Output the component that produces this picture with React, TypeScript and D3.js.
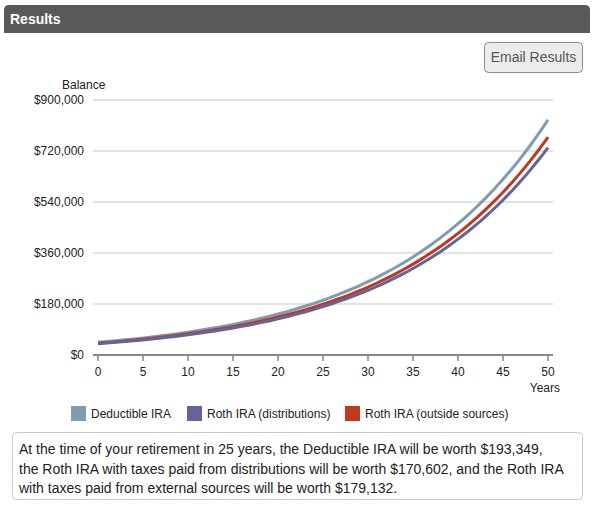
import * as d3 from "d3";
import { useEffect, useRef } from "react";

const YEARS = d3.range(0, 51);

// balances, one value per year (0..50)
const DEDUCTIBLE = [
  45050, 47750, 50620, 53650, 56880, 60290, 63900, 67740, 71800, 76110,
  80680, 85520, 90650, 96090, 101850, 107970, 114450, 121310, 128590, 136300,
  144480, 153150, 162340, 172080, 182400, 193350, 204950, 217250, 230280, 244100,
  258740, 274270, 290730, 308170, 326660, 346260, 367040, 389060, 412400, 437140,
  463370, 491180, 520650, 551890, 585000, 620100, 657300, 696740, 738550, 782860,
  829830,
];
const ROTH_DIST = [
  39750, 42140, 44660, 47340, 50180, 53190, 56390, 59770, 63350, 67160,
  71180, 75460, 79980, 84780, 89870, 95260, 100980, 107040, 113460, 120270,
  127480, 135130, 143240, 151830, 160940, 170600, 180840, 191690, 203190, 215380,
  228300, 242000, 256520, 271910, 288230, 305520, 323850, 343280, 363880, 385710,
  408860, 433390, 459390, 486960, 516170, 547140, 579970, 614770, 651660, 690760,
  732200,
];
const ROTH_OUTSIDE = [
  41740, 44240, 46900, 49710, 52700, 55860, 59210, 62760, 66520, 70520,
  74750, 79230, 83990, 89030, 94370, 100030, 106040, 112400, 119140, 126290,
  133870, 141900, 150410, 159440, 169000, 179130, 189890, 201280, 213360, 226160,
  239730, 254120, 269360, 285530, 302650, 320820, 340070, 360470, 382100, 405020,
  429320, 455080, 482390, 511340, 542010, 574530, 609000, 645540, 684280, 725340,
  768860,
];

const SERIES_NAMES = ["Deductible IRA", "Roth IRA (distributions)", "Roth IRA (outside sources)"];
const SERIES_COLORS = ["#7f9db1", "#64649c", "#c0391e"];
const Y_TICKS = [0, 180000, 360000, 540000, 720000, 900000];
const X_TICKS = [0, 5, 10, 15, 20, 25, 30, 35, 40, 45, 50];

const SUMMARY = [
  "At the time of your retirement in 25 years, the Deductible IRA will be worth $193,349,",
  "the Roth IRA with taxes paid from distributions will be worth $170,602, and the Roth IRA",
  "with taxes paid from external sources will be worth $179,132.",
];

const W = 594;
const H = 509;
const FONT = "'Liberation Sans', Arial, Helvetica, sans-serif";

export default function App() {
  const ref = useRef<SVGSVGElement>(null);

  useEffect(() => {
    if (!ref.current) return;
    const svg = d3.select(ref.current);
    svg.selectAll("*").remove();
    svg.style("font-family", FONT);

    // header bar
    svg
      .append("path")
      .attr("d", "M4,33 V10 Q4,5 9,5 H585 Q590,5 590,10 V33 Z")
      .attr("fill", "#595959");
    svg
      .append("text")
      .attr("x", 10)
      .attr("y", 24)
      .attr("fill", "#fff")
      .style("font-size", "14px")
      .style("font-weight", "bold")
      .text("Results");

    // email button
    svg
      .append("rect")
      .attr("x", 484.5)
      .attr("y", 42.5)
      .attr("width", 98)
      .attr("height", 30)
      .attr("rx", 4)
      .attr("fill", "#ececec")
      .attr("stroke", "#8a8a8a");
    svg
      .append("text")
      .attr("x", 533.5)
      .attr("y", 62)
      .attr("text-anchor", "middle")
      .attr("fill", "#555")
      .style("font-size", "14px")
      .text("Email Results");

    const x = d3.scaleLinear().domain([0, 50]).range([98, 548]);
    const y = d3.scaleLinear().domain([0, 900000]).range([355, 100]);

    const fmt = (v: number) => "$" + d3.format(",")(v);

    // gridlines
    svg
      .append("g")
      .selectAll("line")
      .data(Y_TICKS.filter((t) => t > 0))
      .join("line")
      .attr("x1", 93)
      .attr("x2", 553)
      .attr("y1", (d) => y(d))
      .attr("y2", (d) => y(d))
      .attr("stroke", "#e3e3e3")
      .attr("stroke-width", 2);

    // y labels
    svg
      .append("g")
      .selectAll("text")
      .data(Y_TICKS)
      .join("text")
      .attr("x", 84)
      .attr("y", (d) => y(d) + 4)
      .attr("text-anchor", "end")
      .attr("fill", "#222")
      .style("font-size", "12px")
      .text((d) => fmt(d));

    svg
      .append("text")
      .attr("x", 62)
      .attr("y", 89)
      .attr("fill", "#222")
      .style("font-size", "12px")
      .text("Balance");

    // x axis
    svg
      .append("line")
      .attr("x1", 93)
      .attr("x2", 553)
      .attr("y1", 355)
      .attr("y2", 355)
      .attr("stroke", "#888")
      .attr("stroke-width", 2);
    svg
      .append("g")
      .selectAll("line")
      .data(X_TICKS)
      .join("line")
      .attr("x1", (d) => x(d))
      .attr("x2", (d) => x(d))
      .attr("y1", 355)
      .attr("y2", 361)
      .attr("stroke", "#888")
      .attr("stroke-width", 1.5);
    svg
      .append("g")
      .selectAll("text")
      .data(X_TICKS)
      .join("text")
      .attr("x", (d) => x(d))
      .attr("y", 376)
      .attr("text-anchor", "middle")
      .attr("fill", "#222")
      .style("font-size", "12px")
      .text((d) => d);
    svg
      .append("text")
      .attr("x", 560)
      .attr("y", 392)
      .attr("text-anchor", "end")
      .attr("fill", "#222")
      .style("font-size", "12px")
      .text("Years");

    // lines
    const line = d3
      .line<number>()
      .x((_, i) => x(YEARS[i]))
      .y((d) => y(d))
      .curve(d3.curveMonotoneX);

    const all = [DEDUCTIBLE, ROTH_OUTSIDE, ROTH_DIST];
    const colorsInOrder = [SERIES_COLORS[0], SERIES_COLORS[2], SERIES_COLORS[1]];
    svg
      .append("g")
      .selectAll("path")
      .data(all)
      .join("path")
      .attr("d", (d) => line(d))
      .attr("fill", "none")
      .attr("stroke", (_, i) => colorsInOrder[i])
      .attr("stroke-width", 3)
      .attr("stroke-linejoin", "round");

    // legend
    const legendX = [71, 187, 345];
    const lg = svg
      .append("g")
      .selectAll("g")
      .data(SERIES_NAMES)
      .join("g")
      .attr("transform", (_, i) => `translate(${legendX[i]},406)`);
    lg.append("rect")
      .attr("width", 15)
      .attr("height", 15)
      .attr("fill", (_, i) => SERIES_COLORS[i]);
    lg.append("text")
      .attr("x", 20)
      .attr("y", 12)
      .attr("fill", "#222")
      .style("font-size", "12px")
      .text((d) => d);

    // summary box
    svg
      .append("rect")
      .attr("x", 12.5)
      .attr("y", 432.5)
      .attr("width", 570)
      .attr("height", 67)
      .attr("rx", 4)
      .attr("fill", "#fff")
      .attr("stroke", "#c8c8c8");
    svg
      .append("g")
      .selectAll("text")
      .data(SUMMARY)
      .join("text")
      .attr("x", 19)
      .attr("y", (_, i) => 454 + i * 19.5)
      .attr("fill", "#222")
      .style("font-size", "14px")
      .text((d) => d);
  }, []);

  return (
    <div style={{ position: "absolute", left: 0, top: 0, width: W, height: H, background: "#fff" }}>
      <svg ref={ref} width={W} height={H} />
    </div>
  );
}
